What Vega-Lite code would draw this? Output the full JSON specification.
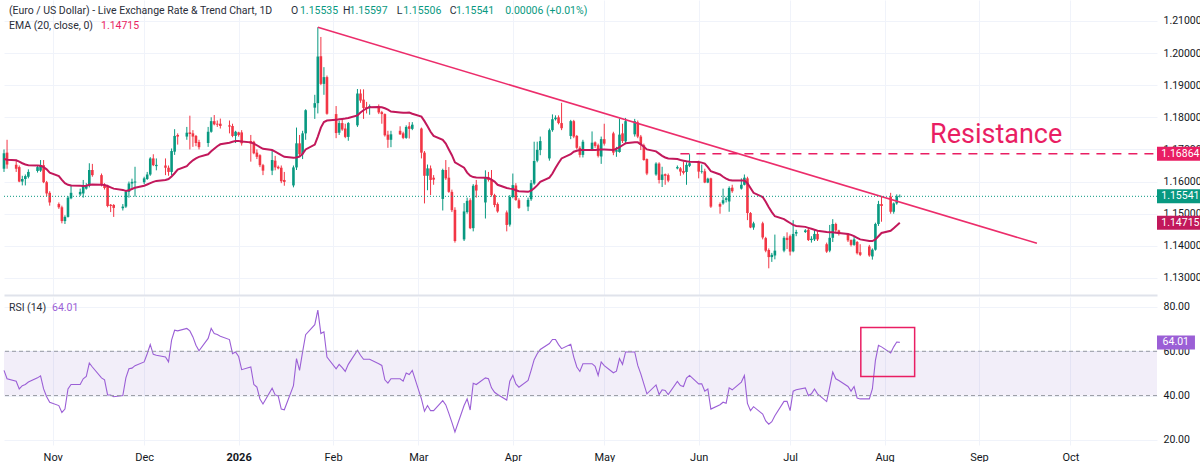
{
  "$schema": "https://vega.github.io/schema/vega-lite/v6.json",
  "padding": 0,
  "background": "#ffffff",
  "spacing": 2,
  "config": {
    "view": {"stroke": null},
    "font": "Roboto",
    "axis": {"labelFont": "Roboto", "labelFontSize": 10.5, "labelColor": "#131722", "gridColor": "#f0f3fa", "domain": false, "ticks": false, "title": null, "labelFlush": false, "labelOverlap": false}
  },
  "datasets": {
    "candles": [
      {"date":"2025-10-16","open":1.1640,"high":1.1700,"low":1.1630,"close":1.1688,"ema":1.1670,"rsi":51.4},
      {"date":"2025-10-17","open":1.1690,"high":1.1730,"low":1.1640,"close":1.1653,"ema":1.1668,"rsi":47.6},
      {"date":"2025-10-20","open":1.1652,"high":1.1668,"low":1.1630,"close":1.1640,"ema":1.1666,"rsi":46.5},
      {"date":"2025-10-21","open":1.1645,"high":1.1650,"low":1.1598,"close":1.1600,"ema":1.1662,"rsi":43.0},
      {"date":"2025-10-22","open":1.1600,"high":1.1618,"low":1.1588,"close":1.1608,"ema":1.1657,"rsi":44.5},
      {"date":"2025-10-23","open":1.1608,"high":1.1622,"low":1.1588,"close":1.1617,"ema":1.1653,"rsi":45.0},
      {"date":"2025-10-24","open":1.1615,"high":1.1638,"low":1.1610,"close":1.1630,"ema":1.1651,"rsi":46.1},
      {"date":"2025-10-27","open":1.1633,"high":1.1650,"low":1.1628,"close":1.1645,"ema":1.1650,"rsi":48.0},
      {"date":"2025-10-28","open":1.1634,"high":1.1667,"low":1.1630,"close":1.1651,"ema":1.1649,"rsi":48.9},
      {"date":"2025-10-29","open":1.1651,"high":1.1667,"low":1.1595,"close":1.1598,"ema":1.1645,"rsi":43.0},
      {"date":"2025-10-30","open":1.1598,"high":1.1602,"low":1.1555,"close":1.1563,"ema":1.1638,"rsi":39.5},
      {"date":"2025-10-31","open":1.1565,"high":1.1570,"low":1.1525,"close":1.1535,"ema":1.1628,"rsi":37.0},
      {"date":"2025-11-03","open":1.1530,"high":1.1535,"low":1.1515,"close":1.1520,"ema":1.1617,"rsi":35.5},
      {"date":"2025-11-04","open":1.1520,"high":1.1525,"low":1.1470,"close":1.1477,"ema":1.1605,"rsi":32.4},
      {"date":"2025-11-05","open":1.1477,"high":1.1495,"low":1.1468,"close":1.1490,"ema":1.1595,"rsi":33.9},
      {"date":"2025-11-06","open":1.1490,"high":1.1555,"low":1.1488,"close":1.1550,"ema":1.1590,"rsi":43.0},
      {"date":"2025-11-07","open":1.1548,"high":1.1590,"low":1.1545,"close":1.1565,"ema":1.1588,"rsi":45.0},
      {"date":"2025-11-10","open":1.1560,"high":1.1578,"low":1.1555,"close":1.1568,"ema":1.1587,"rsi":45.0},
      {"date":"2025-11-11","open":1.1563,"high":1.1605,"low":1.1550,"close":1.1587,"ema":1.1586,"rsi":47.6},
      {"date":"2025-11-12","open":1.1578,"high":1.1595,"low":1.1575,"close":1.1588,"ema":1.1587,"rsi":48.6},
      {"date":"2025-11-13","open":1.1587,"high":1.1657,"low":1.1582,"close":1.1636,"ema":1.1590,"rsi":54.7},
      {"date":"2025-11-14","open":1.1636,"high":1.1655,"low":1.1615,"close":1.1620,"ema":1.1591,"rsi":52.9},
      {"date":"2025-11-17","open":1.1620,"high":1.1625,"low":1.1585,"close":1.1590,"ema":1.1590,"rsi":48.0},
      {"date":"2025-11-18","open":1.1590,"high":1.1595,"low":1.1575,"close":1.1580,"ema":1.1589,"rsi":47.1},
      {"date":"2025-11-19","open":1.1587,"high":1.1590,"low":1.1520,"close":1.1524,"ema":1.1586,"rsi":40.3},
      {"date":"2025-11-20","open":1.1528,"high":1.1530,"low":1.1505,"close":1.1524,"ema":1.1582,"rsi":40.3},
      {"date":"2025-11-21","open":1.1527,"high":1.1530,"low":1.1490,"close":1.1518,"ema":1.1578,"rsi":39.5},
      {"date":"2025-11-24","open":1.1517,"high":1.1530,"low":1.1510,"close":1.1522,"ema":1.1574,"rsi":40.0},
      {"date":"2025-11-25","open":1.1522,"high":1.1572,"low":1.1518,"close":1.1568,"ema":1.1571,"rsi":48.0},
      {"date":"2025-11-26","open":1.1568,"high":1.1600,"low":1.1550,"close":1.1594,"ema":1.1573,"rsi":52.1},
      {"date":"2025-11-27","open":1.1594,"high":1.1609,"low":1.1580,"close":1.1599,"ema":1.1577,"rsi":52.4},
      {"date":"2025-11-28","open":1.1597,"high":1.1646,"low":1.1553,"close":1.1600,"ema":1.1581,"rsi":53.5},
      {"date":"2025-12-01","open":1.1598,"high":1.1615,"low":1.1592,"close":1.1610,"ema":1.1587,"rsi":55.2},
      {"date":"2025-12-02","open":1.1608,"high":1.1630,"low":1.1605,"close":1.1622,"ema":1.1591,"rsi":58.9},
      {"date":"2025-12-03","open":1.1622,"high":1.1676,"low":1.1618,"close":1.1672,"ema":1.1595,"rsi":63.0},
      {"date":"2025-12-04","open":1.1672,"high":1.1685,"low":1.1648,"close":1.1651,"ema":1.1599,"rsi":58.6},
      {"date":"2025-12-05","open":1.1648,"high":1.1672,"low":1.1635,"close":1.1652,"ema":1.1602,"rsi":58.2},
      {"date":"2025-12-08","open":1.1650,"high":1.1672,"low":1.1620,"close":1.1643,"ema":1.1605,"rsi":57.4},
      {"date":"2025-12-09","open":1.1643,"high":1.1650,"low":1.1618,"close":1.1630,"ema":1.1608,"rsi":55.2},
      {"date":"2025-12-10","open":1.1630,"high":1.1703,"low":1.1620,"close":1.1695,"ema":1.1616,"rsi":65.0},
      {"date":"2025-12-11","open":1.1693,"high":1.1763,"low":1.1683,"close":1.1742,"ema":1.1626,"rsi":69.5},
      {"date":"2025-12-12","open":1.1745,"high":1.1750,"low":1.1715,"close":1.1740,"ema":1.1637,"rsi":69.2},
      {"date":"2025-12-15","open":1.1740,"high":1.1770,"low":1.1730,"close":1.1752,"ema":1.1648,"rsi":70.3},
      {"date":"2025-12-16","open":1.1753,"high":1.1805,"low":1.1700,"close":1.1748,"ema":1.1658,"rsi":69.2},
      {"date":"2025-12-17","open":1.1750,"high":1.1760,"low":1.1708,"close":1.1740,"ema":1.1666,"rsi":66.5},
      {"date":"2025-12-18","open":1.1742,"high":1.1745,"low":1.1710,"close":1.1720,"ema":1.1672,"rsi":62.7},
      {"date":"2025-12-19","open":1.1723,"high":1.1730,"low":1.1700,"close":1.1707,"ema":1.1677,"rsi":60.2},
      {"date":"2025-12-22","open":1.1720,"high":1.1770,"low":1.1708,"close":1.1755,"ema":1.1685,"rsi":65.8},
      {"date":"2025-12-23","open":1.1755,"high":1.1800,"low":1.1752,"close":1.1788,"ema":1.1694,"rsi":70.3},
      {"date":"2025-12-24","open":1.1788,"high":1.1807,"low":1.1775,"close":1.1778,"ema":1.1702,"rsi":68.0},
      {"date":"2025-12-25","open":1.1780,"high":1.1790,"low":1.1770,"close":1.1777,"ema":1.1710,"rsi":67.6},
      {"date":"2025-12-26","open":1.1780,"high":1.1796,"low":1.1765,"close":1.1773,"ema":1.1716,"rsi":66.8},
      {"date":"2025-12-29","open":1.1775,"high":1.1790,"low":1.1750,"close":1.1771,"ema":1.1721,"rsi":65.3},
      {"date":"2025-12-30","open":1.1773,"high":1.1780,"low":1.1738,"close":1.1742,"ema":1.1724,"rsi":58.9},
      {"date":"2025-12-31","open":1.1742,"high":1.1758,"low":1.1720,"close":1.1755,"ema":1.1726,"rsi":59.7},
      {"date":"2026-01-01","open":1.1753,"high":1.1755,"low":1.1740,"close":1.1745,"ema":1.1726,"rsi":57.7},
      {"date":"2026-01-02","open":1.1753,"high":1.1760,"low":1.1712,"close":1.1719,"ema":1.1725,"rsi":51.7},
      {"date":"2026-01-05","open":1.1726,"high":1.1745,"low":1.1662,"close":1.1718,"ema":1.1722,"rsi":52.9},
      {"date":"2026-01-06","open":1.1724,"high":1.1727,"low":1.1685,"close":1.1688,"ema":1.1718,"rsi":45.0},
      {"date":"2026-01-07","open":1.1690,"high":1.1700,"low":1.1670,"close":1.1677,"ema":1.1713,"rsi":43.8},
      {"date":"2026-01-08","open":1.1682,"high":1.1685,"low":1.1645,"close":1.1651,"ema":1.1707,"rsi":38.5},
      {"date":"2026-01-09","open":1.1651,"high":1.1655,"low":1.1620,"close":1.1634,"ema":1.1702,"rsi":36.2},
      {"date":"2026-01-12","open":1.1634,"high":1.1698,"low":1.1620,"close":1.1667,"ema":1.1698,"rsi":43.3},
      {"date":"2026-01-13","open":1.1665,"high":1.1680,"low":1.1635,"close":1.1644,"ema":1.1693,"rsi":40.3},
      {"date":"2026-01-14","open":1.1646,"high":1.1650,"low":1.1638,"close":1.1641,"ema":1.1688,"rsi":39.8},
      {"date":"2026-01-15","open":1.1643,"high":1.1650,"low":1.1595,"close":1.1601,"ema":1.1682,"rsi":33.9},
      {"date":"2026-01-16","open":1.1605,"high":1.1630,"low":1.1587,"close":1.1599,"ema":1.1677,"rsi":33.6},
      {"date":"2026-01-19","open":1.1588,"high":1.1650,"low":1.1582,"close":1.1644,"ema":1.1674,"rsi":44.5},
      {"date":"2026-01-20","open":1.1644,"high":1.1768,"low":1.1636,"close":1.1719,"ema":1.1675,"rsi":56.7},
      {"date":"2026-01-21","open":1.1719,"high":1.1745,"low":1.1680,"close":1.1685,"ema":1.1678,"rsi":51.4},
      {"date":"2026-01-22","open":1.1685,"high":1.1758,"low":1.1670,"close":1.1750,"ema":1.1686,"rsi":59.7},
      {"date":"2026-01-23","open":1.1750,"high":1.1825,"low":1.1730,"close":1.1822,"ema":1.1700,"rsi":67.5},
      {"date":"2026-01-26","open":1.1830,"high":1.1870,"low":1.1795,"close":1.1844,"ema":1.1715,"rsi":72.0},
      {"date":"2026-01-27","open":1.1844,"high":1.2080,"low":1.1812,"close":1.1989,"ema":1.1740,"rsi":78.6},
      {"date":"2026-01-28","open":1.1990,"high":1.2050,"low":1.1900,"close":1.1904,"ema":1.1768,"rsi":68.0},
      {"date":"2026-01-29","open":1.1904,"high":1.1956,"low":1.1870,"close":1.1925,"ema":1.1785,"rsi":68.8},
      {"date":"2026-01-30","open":1.1925,"high":1.1930,"low":1.1808,"close":1.1811,"ema":1.1790,"rsi":57.4},
      {"date":"2026-02-02","open":1.1810,"high":1.1835,"low":1.1735,"close":1.1751,"ema":1.1792,"rsi":52.1},
      {"date":"2026-02-03","open":1.1752,"high":1.1790,"low":1.1745,"close":1.1782,"ema":1.1794,"rsi":54.1},
      {"date":"2026-02-04","open":1.1782,"high":1.1797,"low":1.1758,"close":1.1762,"ema":1.1795,"rsi":52.6},
      {"date":"2026-02-05","open":1.1765,"high":1.1780,"low":1.1735,"close":1.1739,"ema":1.1796,"rsi":50.9},
      {"date":"2026-02-06","open":1.1739,"high":1.1785,"low":1.1727,"close":1.1782,"ema":1.1798,"rsi":54.1},
      {"date":"2026-02-09","open":1.1775,"high":1.1888,"low":1.1770,"close":1.1874,"ema":1.1806,"rsi":60.5},
      {"date":"2026-02-10","open":1.1874,"high":1.1887,"low":1.1845,"close":1.1852,"ema":1.1815,"rsi":58.2},
      {"date":"2026-02-11","open":1.1855,"high":1.1887,"low":1.1795,"close":1.1829,"ema":1.1822,"rsi":56.4},
      {"date":"2026-02-12","open":1.1832,"high":1.1848,"low":1.1812,"close":1.1828,"ema":1.1828,"rsi":56.4},
      {"date":"2026-02-13","open":1.1829,"high":1.1840,"low":1.1808,"close":1.1835,"ema":1.1831,"rsi":56.4},
      {"date":"2026-02-16","open":1.1831,"high":1.1840,"low":1.1810,"close":1.1815,"ema":1.1832,"rsi":54.4},
      {"date":"2026-02-17","open":1.1816,"high":1.1820,"low":1.1780,"close":1.1810,"ema":1.1831,"rsi":53.6},
      {"date":"2026-02-18","open":1.1810,"high":1.1812,"low":1.1740,"close":1.1744,"ema":1.1828,"rsi":47.1},
      {"date":"2026-02-19","open":1.1746,"high":1.1758,"low":1.1705,"close":1.1730,"ema":1.1824,"rsi":45.6},
      {"date":"2026-02-20","open":1.1730,"high":1.1758,"low":1.1707,"close":1.1747,"ema":1.1818,"rsi":47.6},
      {"date":"2026-02-23","open":1.1758,"high":1.1772,"low":1.1745,"close":1.1747,"ema":1.1815,"rsi":47.6},
      {"date":"2026-02-24","open":1.1750,"high":1.1755,"low":1.1732,"close":1.1736,"ema":1.1814,"rsi":46.5},
      {"date":"2026-02-25","open":1.1736,"high":1.1775,"low":1.1733,"close":1.1770,"ema":1.1814,"rsi":50.2},
      {"date":"2026-02-26","open":1.1772,"high":1.1785,"low":1.1734,"close":1.1764,"ema":1.1815,"rsi":49.5},
      {"date":"2026-02-27","open":1.1764,"high":1.1785,"low":1.1760,"close":1.1777,"ema":1.1811,"rsi":51.4},
      {"date":"2026-03-02","open":1.1765,"high":1.1768,"low":1.1672,"close":1.1690,"ema":1.1802,"rsi":38.5},
      {"date":"2026-03-03","open":1.1690,"high":1.1695,"low":1.1532,"close":1.1618,"ema":1.1788,"rsi":32.9},
      {"date":"2026-03-04","open":1.1618,"high":1.1653,"low":1.1573,"close":1.1641,"ema":1.1772,"rsi":35.5},
      {"date":"2026-03-05","open":1.1641,"high":1.1650,"low":1.1558,"close":1.1605,"ema":1.1755,"rsi":33.2},
      {"date":"2026-03-06","open":1.1612,"high":1.1620,"low":1.1590,"close":1.1606,"ema":1.1742,"rsi":33.2},
      {"date":"2026-03-09","open":1.1546,"high":1.1640,"low":1.1510,"close":1.1636,"ema":1.1730,"rsi":37.7},
      {"date":"2026-03-10","open":1.1636,"high":1.1667,"low":1.1605,"close":1.1610,"ema":1.1718,"rsi":35.8},
      {"date":"2026-03-11","open":1.1612,"high":1.1645,"low":1.1565,"close":1.1568,"ema":1.1700,"rsi":32.0},
      {"date":"2026-03-12","open":1.1568,"high":1.1575,"low":1.1505,"close":1.1511,"ema":1.1682,"rsi":27.9},
      {"date":"2026-03-13","open":1.1512,"high":1.1520,"low":1.1410,"close":1.1415,"ema":1.1660,"rsi":23.6},
      {"date":"2026-03-16","open":1.1420,"high":1.1533,"low":1.1415,"close":1.1507,"ema":1.1643,"rsi":35.5},
      {"date":"2026-03-17","open":1.1505,"high":1.1550,"low":1.1500,"close":1.1540,"ema":1.1628,"rsi":38.5},
      {"date":"2026-03-18","open":1.1542,"high":1.1548,"low":1.1452,"close":1.1455,"ema":1.1618,"rsi":33.5},
      {"date":"2026-03-19","open":1.1455,"high":1.1592,"low":1.1445,"close":1.1587,"ema":1.1614,"rsi":45.6},
      {"date":"2026-03-20","open":1.1590,"high":1.1605,"low":1.1550,"close":1.1572,"ema":1.1613,"rsi":45.0},
      {"date":"2026-03-23","open":1.1535,"high":1.1635,"low":1.1485,"close":1.1612,"ema":1.1612,"rsi":48.0},
      {"date":"2026-03-24","open":1.1612,"high":1.1630,"low":1.1600,"close":1.1605,"ema":1.1611,"rsi":47.6},
      {"date":"2026-03-25","open":1.1607,"high":1.1636,"low":1.1553,"close":1.1558,"ema":1.1606,"rsi":43.5},
      {"date":"2026-03-26","open":1.1558,"high":1.1562,"low":1.1520,"close":1.1527,"ema":1.1600,"rsi":41.5},
      {"date":"2026-03-27","open":1.1530,"high":1.1535,"low":1.1503,"close":1.1507,"ema":1.1590,"rsi":40.5},
      {"date":"2026-03-30","open":1.1504,"high":1.1510,"low":1.1445,"close":1.1465,"ema":1.1580,"rsi":38.0},
      {"date":"2026-03-31","open":1.1466,"high":1.1558,"low":1.1460,"close":1.1552,"ema":1.1578,"rsi":46.5},
      {"date":"2026-04-01","open":1.1552,"high":1.1625,"low":1.1548,"close":1.1589,"ema":1.1577,"rsi":49.1},
      {"date":"2026-04-02","open":1.1588,"high":1.1595,"low":1.1540,"close":1.1543,"ema":1.1573,"rsi":45.3},
      {"date":"2026-04-03","open":1.1542,"high":1.1548,"low":1.1515,"close":1.1518,"ema":1.1570,"rsi":43.8},
      {"date":"2026-04-06","open":1.1522,"high":1.1550,"low":1.1508,"close":1.1543,"ema":1.1568,"rsi":46.8},
      {"date":"2026-04-07","open":1.1545,"high":1.1605,"low":1.1540,"close":1.1595,"ema":1.1572,"rsi":51.4},
      {"date":"2026-04-08","open":1.1594,"high":1.1724,"low":1.1590,"close":1.1664,"ema":1.1579,"rsi":56.2},
      {"date":"2026-04-09","open":1.1665,"high":1.1724,"low":1.1660,"close":1.1699,"ema":1.1588,"rsi":58.9},
      {"date":"2026-04-10","open":1.1698,"high":1.1740,"low":1.1682,"close":1.1726,"ema":1.1599,"rsi":60.8},
      {"date":"2026-04-13","open":1.1672,"high":1.1765,"low":1.1665,"close":1.1760,"ema":1.1612,"rsi":63.5},
      {"date":"2026-04-14","open":1.1760,"high":1.1809,"low":1.1755,"close":1.1794,"ema":1.1625,"rsi":65.3},
      {"date":"2026-04-15","open":1.1794,"high":1.1806,"low":1.1790,"close":1.1799,"ema":1.1642,"rsi":65.3},
      {"date":"2026-04-16","open":1.1800,"high":1.1806,"low":1.1778,"close":1.1782,"ema":1.1658,"rsi":63.0},
      {"date":"2026-04-17","open":1.1782,"high":1.1845,"low":1.1760,"close":1.1766,"ema":1.1672,"rsi":61.2},
      {"date":"2026-04-20","open":1.1742,"high":1.1792,"low":1.1732,"close":1.1788,"ema":1.1685,"rsi":63.2},
      {"date":"2026-04-21","open":1.1788,"high":1.1792,"low":1.1735,"close":1.1740,"ema":1.1693,"rsi":57.4},
      {"date":"2026-04-22","open":1.1742,"high":1.1745,"low":1.1700,"close":1.1705,"ema":1.1696,"rsi":52.9},
      {"date":"2026-04-23","open":1.1705,"high":1.1710,"low":1.1675,"close":1.1683,"ema":1.1698,"rsi":50.9},
      {"date":"2026-04-24","open":1.1683,"high":1.1730,"low":1.1675,"close":1.1724,"ema":1.1698,"rsi":54.4},
      {"date":"2026-04-27","open":1.1700,"high":1.1756,"low":1.1695,"close":1.1721,"ema":1.1698,"rsi":54.4},
      {"date":"2026-04-28","open":1.1722,"high":1.1725,"low":1.1705,"close":1.1711,"ema":1.1698,"rsi":53.2},
      {"date":"2026-04-29","open":1.1713,"high":1.1718,"low":1.1675,"close":1.1680,"ema":1.1699,"rsi":49.1},
      {"date":"2026-04-30","open":1.1678,"high":1.1740,"low":1.1655,"close":1.1732,"ema":1.1700,"rsi":55.2},
      {"date":"2026-05-01","open":1.1732,"high":1.1780,"low":1.1712,"close":1.1718,"ema":1.1700,"rsi":53.5},
      {"date":"2026-05-04","open":1.1750,"high":1.1755,"low":1.1682,"close":1.1690,"ema":1.1698,"rsi":50.3},
      {"date":"2026-05-05","open":1.1693,"high":1.1708,"low":1.1677,"close":1.1698,"ema":1.1702,"rsi":51.0},
      {"date":"2026-05-06","open":1.1692,"high":1.1796,"low":1.1690,"close":1.1746,"ema":1.1707,"rsi":56.7},
      {"date":"2026-05-07","open":1.1750,"high":1.1780,"low":1.1720,"close":1.1726,"ema":1.1713,"rsi":54.1},
      {"date":"2026-05-08","open":1.1725,"high":1.1798,"low":1.1720,"close":1.1788,"ema":1.1719,"rsi":59.7},
      {"date":"2026-05-11","open":1.1747,"high":1.1795,"low":1.1740,"close":1.1788,"ema":1.1722,"rsi":59.7},
      {"date":"2026-05-12","open":1.1784,"high":1.1790,"low":1.1735,"close":1.1740,"ema":1.1722,"rsi":53.6},
      {"date":"2026-05-13","open":1.1740,"high":1.1745,"low":1.1698,"close":1.1714,"ema":1.1716,"rsi":49.8},
      {"date":"2026-05-14","open":1.1713,"high":1.1718,"low":1.1665,"close":1.1667,"ema":1.1708,"rsi":45.3},
      {"date":"2026-05-15","open":1.1670,"high":1.1672,"low":1.1620,"close":1.1625,"ema":1.1700,"rsi":40.8},
      {"date":"2026-05-18","open":1.1622,"high":1.1660,"low":1.1618,"close":1.1656,"ema":1.1694,"rsi":44.8},
      {"date":"2026-05-19","open":1.1656,"high":1.1660,"low":1.1594,"close":1.1605,"ema":1.1687,"rsi":40.5},
      {"date":"2026-05-20","open":1.1605,"high":1.1646,"low":1.1583,"close":1.1622,"ema":1.1680,"rsi":42.6},
      {"date":"2026-05-21","open":1.1623,"high":1.1625,"low":1.1590,"close":1.1618,"ema":1.1675,"rsi":42.3},
      {"date":"2026-05-22","open":1.1620,"high":1.1625,"low":1.1598,"close":1.1603,"ema":1.1672,"rsi":40.5},
      {"date":"2026-05-25","open":1.1641,"high":1.1650,"low":1.1638,"close":1.1645,"ema":1.1670,"rsi":46.4},
      {"date":"2026-05-26","open":1.1641,"high":1.1645,"low":1.1618,"close":1.1631,"ema":1.1667,"rsi":44.5},
      {"date":"2026-05-27","open":1.1633,"high":1.1662,"low":1.1622,"close":1.1627,"ema":1.1665,"rsi":44.1},
      {"date":"2026-05-28","open":1.1630,"high":1.1660,"low":1.1590,"close":1.1652,"ema":1.1663,"rsi":47.9},
      {"date":"2026-05-29","open":1.1649,"high":1.1685,"low":1.1645,"close":1.1657,"ema":1.1662,"rsi":49.1},
      {"date":"2026-06-01","open":1.1660,"high":1.1665,"low":1.1610,"close":1.1631,"ema":1.1661,"rsi":45.3},
      {"date":"2026-06-02","open":1.1630,"high":1.1653,"low":1.1625,"close":1.1632,"ema":1.1659,"rsi":45.3},
      {"date":"2026-06-03","open":1.1632,"high":1.1640,"low":1.1595,"close":1.1597,"ema":1.1656,"rsi":42.0},
      {"date":"2026-06-04","open":1.1597,"high":1.1612,"low":1.1595,"close":1.1609,"ema":1.1645,"rsi":43.0},
      {"date":"2026-06-05","open":1.1610,"high":1.1612,"low":1.1518,"close":1.1522,"ema":1.1632,"rsi":33.9},
      {"date":"2026-06-08","open":1.1530,"high":1.1535,"low":1.1500,"close":1.1522,"ema":1.1622,"rsi":35.9},
      {"date":"2026-06-09","open":1.1532,"high":1.1578,"low":1.1528,"close":1.1542,"ema":1.1615,"rsi":37.0},
      {"date":"2026-06-10","open":1.1543,"high":1.1553,"low":1.1535,"close":1.1548,"ema":1.1609,"rsi":36.5},
      {"date":"2026-06-11","open":1.1538,"high":1.1585,"low":1.1506,"close":1.1580,"ema":1.1605,"rsi":43.5},
      {"date":"2026-06-12","open":1.1581,"high":1.1590,"low":1.1565,"close":1.1570,"ema":1.1603,"rsi":42.6},
      {"date":"2026-06-15","open":1.1578,"high":1.1610,"low":1.1575,"close":1.1590,"ema":1.1603,"rsi":46.1},
      {"date":"2026-06-16","open":1.1590,"high":1.1622,"low":1.1588,"close":1.1612,"ema":1.1603,"rsi":49.1},
      {"date":"2026-06-17","open":1.1610,"high":1.1615,"low":1.1480,"close":1.1502,"ema":1.1595,"rsi":36.5},
      {"date":"2026-06-18","open":1.1502,"high":1.1505,"low":1.1455,"close":1.1457,"ema":1.1580,"rsi":33.2},
      {"date":"2026-06-19","open":1.1457,"high":1.1475,"low":1.1450,"close":1.1470,"ema":1.1565,"rsi":35.0},
      {"date":"2026-06-22","open":1.1470,"high":1.1475,"low":1.1420,"close":1.1426,"ema":1.1552,"rsi":31.7},
      {"date":"2026-06-23","open":1.1424,"high":1.1428,"low":1.1380,"close":1.1385,"ema":1.1537,"rsi":28.6},
      {"date":"2026-06-24","open":1.1387,"high":1.1392,"low":1.1330,"close":1.1365,"ema":1.1520,"rsi":27.1},
      {"date":"2026-06-25","open":1.1365,"high":1.1378,"low":1.1350,"close":1.1372,"ema":1.1505,"rsi":28.2},
      {"date":"2026-06-26","open":1.1370,"high":1.1435,"low":1.1358,"close":1.1385,"ema":1.1492,"rsi":30.9},
      {"date":"2026-06-29","open":1.1385,"high":1.1430,"low":1.1380,"close":1.1425,"ema":1.1483,"rsi":37.4},
      {"date":"2026-06-30","open":1.1425,"high":1.1442,"low":1.1390,"close":1.1418,"ema":1.1477,"rsi":37.4},
      {"date":"2026-07-01","open":1.1430,"high":1.1435,"low":1.1370,"close":1.1382,"ema":1.1471,"rsi":33.2},
      {"date":"2026-07-02","open":1.1383,"high":1.1480,"low":1.1380,"close":1.1437,"ema":1.1465,"rsi":42.0},
      {"date":"2026-07-03","open":1.1438,"high":1.1450,"low":1.1430,"close":1.1443,"ema":1.1462,"rsi":42.6},
      {"date":"2026-07-06","open":1.1443,"high":1.1452,"low":1.1440,"close":1.1448,"ema":1.1459,"rsi":43.5},
      {"date":"2026-07-07","open":1.1450,"high":1.1455,"low":1.1415,"close":1.1418,"ema":1.1456,"rsi":40.0},
      {"date":"2026-07-08","open":1.1418,"high":1.1430,"low":1.1410,"close":1.1422,"ema":1.1453,"rsi":40.8},
      {"date":"2026-07-09","open":1.1420,"high":1.1450,"low":1.1415,"close":1.1437,"ema":1.1450,"rsi":43.0},
      {"date":"2026-07-10","open":1.1437,"high":1.1445,"low":1.1415,"close":1.1420,"ema":1.1447,"rsi":40.8},
      {"date":"2026-07-13","open":1.1405,"high":1.1410,"low":1.1378,"close":1.1382,"ema":1.1443,"rsi":37.3},
      {"date":"2026-07-14","open":1.1385,"high":1.1465,"low":1.1380,"close":1.1425,"ema":1.1442,"rsi":43.8},
      {"date":"2026-07-15","open":1.1425,"high":1.1483,"low":1.1412,"close":1.1468,"ema":1.1442,"rsi":50.6},
      {"date":"2026-07-16","open":1.1468,"high":1.1472,"low":1.1440,"close":1.1448,"ema":1.1441,"rsi":47.6},
      {"date":"2026-07-17","open":1.1448,"high":1.1450,"low":1.1432,"close":1.1437,"ema":1.1440,"rsi":46.8},
      {"date":"2026-07-20","open":1.1437,"high":1.1440,"low":1.1412,"close":1.1417,"ema":1.1437,"rsi":44.1},
      {"date":"2026-07-21","open":1.1418,"high":1.1420,"low":1.1398,"close":1.1403,"ema":1.1434,"rsi":42.0},
      {"date":"2026-07-22","open":1.1403,"high":1.1430,"low":1.1400,"close":1.1420,"ema":1.1430,"rsi":44.1},
      {"date":"2026-07-23","open":1.1412,"high":1.1415,"low":1.1373,"close":1.1377,"ema":1.1425,"rsi":38.9},
      {"date":"2026-07-24","open":1.1380,"high":1.1405,"low":1.1368,"close":1.1372,"ema":1.1420,"rsi":38.5},
      {"date":"2026-07-27","open":1.1398,"high":1.1403,"low":1.1366,"close":1.1370,"ema":1.1415,"rsi":38.5},
      {"date":"2026-07-28","open":1.1367,"high":1.1392,"low":1.1357,"close":1.1388,"ema":1.1415,"rsi":43.0},
      {"date":"2026-07-29","open":1.1388,"high":1.1472,"low":1.1385,"close":1.1468,"ema":1.1420,"rsi":55.9},
      {"date":"2026-07-30","open":1.1468,"high":1.1540,"low":1.1462,"close":1.1530,"ema":1.1430,"rsi":62.7},
      {"date":"2026-07-31","open":1.1530,"high":1.1553,"low":1.1475,"close":1.1524,"ema":1.1440,"rsi":62.0},
      {"date":"2026-08-03","open":1.1553,"high":1.1565,"low":1.1500,"close":1.1506,"ema":1.1447,"rsi":59.2},
      {"date":"2026-08-04","open":1.1506,"high":1.1535,"low":1.1500,"close":1.1532,"ema":1.1455,"rsi":62.0},
      {"date":"2026-08-05","open":1.1532,"high":1.1560,"low":1.1528,"close":1.1554,"ema":1.1463,"rsi":64.2},
      {"date":"2026-08-06","open":1.15535,"high":1.15597,"low":1.15506,"close":1.15541,"ema":1.14715,"rsi":64.01}
    ],
    "trend": [
      {"date":"2026-01-27","level":1.2080},
      {"date":"2026-09-20","level":1.1408}
    ],
    "legend": [
      {"date":"2025-10-17T15:00:00Z","level":1.2131,"txt":"(Euro / US Dollar) - Live Exchange Rate & Trend Chart, 1D","part":"label"},
      {"date":"2026-01-18T04:30:00Z","level":1.2131,"txt":"O","part":"label"},
      {"date":"2026-01-21T03:20:00Z","level":1.2131,"txt":"1.15535","part":"value"},
      {"date":"2026-02-04T06:00:00Z","level":1.2131,"txt":"H","part":"label"},
      {"date":"2026-02-06T09:20:00Z","level":1.2131,"txt":"1.15597","part":"value"},
      {"date":"2026-02-21T22:00:00Z","level":1.2131,"txt":"L","part":"label"},
      {"date":"2026-02-24T00:00:00Z","level":1.2131,"txt":"1.15506","part":"value"},
      {"date":"2026-03-11T08:00:00Z","level":1.2131,"txt":"C","part":"label"},
      {"date":"2026-03-13T08:00:00Z","level":1.2131,"txt":"1.15541","part":"value"},
      {"date":"2026-03-29T12:00:00Z","level":1.2131,"txt":"0.00006 (+0.01%)","part":"value"},
      {"date":"2025-10-17T15:00:00Z","level":1.2084,"txt":"EMA (20, close, 0)","part":"label"},
      {"date":"2025-11-16T20:00:00Z","level":1.2084,"txt":"1.14715","part":"ema"}
    ],
    "tags": [
      {"level":1.16864,"tag":"res"},
      {"level":1.15541,"tag":"last"},
      {"level":1.14715,"tag":"ema"}
    ]
  },
  "vconcat": [
    {
      "width": 1153,
      "height": 295,
      "layer": [
        {
          "data": {"name": "candles"},
          "mark": {"type": "rule", "strokeWidth": 1},
          "encoding": {
            "x": {
              "field": "date", "type": "temporal",
              "scale": {"type": "utc", "padding": 0, "domain": [{"year": 2025, "month": 10, "date": 16, "utc": true}, {"year": 2026, "month": 10, "date": 29, "hours": 10, "utc": true}]},
              "axis": {"labels": false, "grid": true, "domain": true, "domainColor": "#e0e3eb", "domainWidth": 2, "tickCount": {"interval": "month", "step": 1}}
            },
            "y": {
              "field": "low", "type": "quantitative",
              "scale": {"domain": [1.1247, 1.2165], "zero": false, "nice": false, "padding": 0},
              "axis": {"orient": "right", "values": [1.13, 1.14, 1.15, 1.16, 1.17, 1.18, 1.19, 1.2, 1.21], "tickCount": 20, "format": ".5f", "labelPadding": 6, "grid": true, "labelOverlap": false, "labelBound": false}
            },
            "y2": {"field": "high"},
            "color": {"condition": {"test": "datum.close >= datum.open", "value": "#089981"}, "value": "#F23645"}
          }
        },
        {
          "data": {"name": "candles"},
          "mark": {"type": "bar", "width": 2.6},
          "encoding": {
            "x": {"field": "date", "type": "temporal"},
            "y": {"field": "open", "type": "quantitative"},
            "y2": {"field": "close"},
            "color": {"condition": {"test": "datum.close >= datum.open", "value": "#089981"}, "value": "#F23645"}
          }
        },
        {
          "data": {"name": "candles"},
          "mark": {"type": "line", "color": "#C2185B", "strokeWidth": 2},
          "encoding": {
            "x": {"field": "date", "type": "temporal"},
            "y": {"field": "ema", "type": "quantitative"}
          }
        },
        {
          "data": {"name": "trend"},
          "mark": {"type": "line", "color": "#EC2D6B", "strokeWidth": 1.6},
          "encoding": {
            "x": {"field": "date", "type": "temporal"},
            "y": {"field": "level", "type": "quantitative"}
          }
        },
        {
          "data": {"values": [{}]},
          "mark": {"type": "rule", "color": "#E91E63", "strokeWidth": 1.5, "strokeDash": [9, 7]},
          "encoding": {
            "x": {"datum": {"year": 2026, "month": 5, "date": 26, "utc": true}, "type": "temporal"},
            "x2": {"datum": {"year": 2026, "month": 10, "date": 29, "hours": 10, "utc": true}},
            "y": {"datum": 1.16864, "type": "quantitative"}
          }
        },
        {
          "data": {"values": [{}]},
          "mark": {"type": "rule", "color": "#089981", "strokeWidth": 1, "strokeDash": [1, 2]},
          "encoding": {
            "y": {"datum": 1.15541, "type": "quantitative"}
          }
        },
        {
          "data": {"values": [{}]},
          "mark": {"type": "text", "text": "Resistance", "fontSize": 27, "color": "#E91E63", "align": "left", "baseline": "alphabetic"},
          "encoding": {
            "x": {"datum": {"year": 2026, "month": 8, "date": 15, "hours": 22, "utc": true}, "type": "temporal"},
            "y": {"datum": 1.1721, "type": "quantitative"}
          }
        },
        {
          "data": {"name": "legend"},
          "mark": {"type": "text", "fontSize": 10.5, "align": "left", "baseline": "middle"},
          "encoding": {
            "x": {"field": "date", "type": "temporal"},
            "y": {"field": "level", "type": "quantitative"},
            "text": {"field": "txt"},
            "color": {"condition": [{"test": "datum.part == 'value'", "value": "#089981"}, {"test": "datum.part == 'ema'", "value": "#E91E63"}], "value": "#2a2e39"}
          }
        },
        {
          "data": {"name": "tags"},
          "mark": {"type": "bar", "orient": "horizontal", "height": 14},
          "encoding": {
            "x": {"datum": {"year": 2026, "month": 10, "date": 29, "hours": 10, "utc": true}, "type": "temporal"},
            "x2": {"datum": {"year": 2026, "month": 11, "date": 13, "hours": 12, "utc": true}},
            "y": {"field": "level", "type": "quantitative"},
            "color": {"condition": [{"test": "datum.tag == 'res'", "value": "#E91E63"}, {"test": "datum.tag == 'last'", "value": "#089981"}], "value": "#C2185B"}
          }
        },
        {
          "data": {"name": "tags"},
          "mark": {"type": "text", "fontSize": 10.5, "color": "#ffffff", "align": "center", "baseline": "middle"},
          "encoding": {
            "x": {"datum": {"year": 2026, "month": 11, "date": 6, "hours": 2, "utc": true}, "type": "temporal"},
            "y": {"field": "level", "type": "quantitative"},
            "text": {"field": "level", "format": ".5f"}
          }
        }
      ]
    },
    {
      "width": 1153,
      "height": 148,
      "layer": [
        {
          "data": {"values": [{}]},
          "mark": {"type": "rect", "color": "#7E57C2", "opacity": 0.1},
          "encoding": {
            "y": {"datum": 60, "type": "quantitative"},
            "y2": {"datum": 40}
          }
        },
        {
          "data": {"name": "candles"},
          "mark": {"type": "line", "color": "#9B5FD6", "strokeWidth": 1.1},
          "encoding": {
            "x": {
              "field": "date", "type": "temporal",
              "scale": {"type": "utc", "padding": 0, "domain": [{"year": 2025, "month": 10, "date": 16, "utc": true}, {"year": 2026, "month": 10, "date": 29, "hours": 10, "utc": true}]},
              "axis": {"grid": true, "labelPadding": 6, "labelFontSize": 11, "tickCount": {"interval": "month", "step": 1},
                "labelExpr": "utcFormat(datum.value, '%m') == '01' ? utcFormat(datum.value, '%Y') : utcFormat(datum.value, '%b')",
                "labelFontWeight": {"condition": {"test": "utcFormat(datum.value, '%m') == '01'", "value": "bold"}, "value": "normal"}}
            },
            "y": {
              "field": "rsi", "type": "quantitative",
              "scale": {"domain": [17.7, 84.5], "zero": false, "nice": false, "padding": 0},
              "axis": {"orient": "right", "values": [20, 40, 60, 80], "tickCount": 10, "format": ".2f", "labelPadding": 6, "grid": true, "labelOverlap": false}
            }
          }
        },
        {
          "data": {"values": [{}]},
          "mark": {"type": "rule", "color": "#9598a1", "strokeWidth": 1, "strokeDash": [4, 3]},
          "encoding": {"y": {"datum": 60, "type": "quantitative"}}
        },
        {
          "data": {"values": [{}]},
          "mark": {"type": "rule", "color": "#9598a1", "strokeWidth": 1, "strokeDash": [4, 3]},
          "encoding": {"y": {"datum": 40, "type": "quantitative"}}
        },
        {
          "data": {"values": [{}]},
          "mark": {"type": "rect", "filled": false, "color": "#E91E63", "strokeWidth": 1.5},
          "encoding": {
            "x": {"datum": {"year": 2026, "month": 7, "date": 24, "hours": 5, "utc": true}, "type": "temporal"},
            "x2": {"datum": {"year": 2026, "month": 8, "date": 10, "hours": 21, "utc": true}},
            "y": {"datum": 70.7, "type": "quantitative"},
            "y2": {"datum": 48.6}
          }
        },
        {
          "data": {"values": [{}]},
          "mark": {"type": "text", "text": "RSI (14)", "fontSize": 10.5, "color": "#2a2e39", "align": "left", "baseline": "middle"},
          "encoding": {
            "x": {"datum": {"year": 2025, "month": 10, "date": 17, "hours": 15, "utc": true}, "type": "temporal"},
            "y": {"datum": 79.5, "type": "quantitative"}
          }
        },
        {
          "data": {"values": [{}]},
          "mark": {"type": "text", "text": "64.01", "fontSize": 10.5, "color": "#9B5FD6", "align": "left", "baseline": "middle"},
          "encoding": {
            "x": {"datum": {"year": 2025, "month": 10, "date": 31, "hours": 18, "utc": true}, "type": "temporal"},
            "y": {"datum": 79.5, "type": "quantitative"}
          }
        },
        {
          "data": {"values": [{}]},
          "mark": {"type": "bar", "orient": "horizontal", "height": 14, "color": "#9B5FD6"},
          "encoding": {
            "x": {"datum": {"year": 2026, "month": 10, "date": 29, "hours": 10, "utc": true}, "type": "temporal"},
            "x2": {"datum": {"year": 2026, "month": 11, "date": 10, "hours": 21, "utc": true}},
            "y": {"datum": 64.01, "type": "quantitative"}
          }
        },
        {
          "data": {"values": [{}]},
          "mark": {"type": "text", "text": "64.01", "fontSize": 10.5, "color": "#ffffff", "align": "center", "baseline": "middle"},
          "encoding": {
            "x": {"datum": {"year": 2026, "month": 11, "date": 4, "hours": 14, "utc": true}, "type": "temporal"},
            "y": {"datum": 64.01, "type": "quantitative"}
          }
        }
      ]
    }
  ]
}
